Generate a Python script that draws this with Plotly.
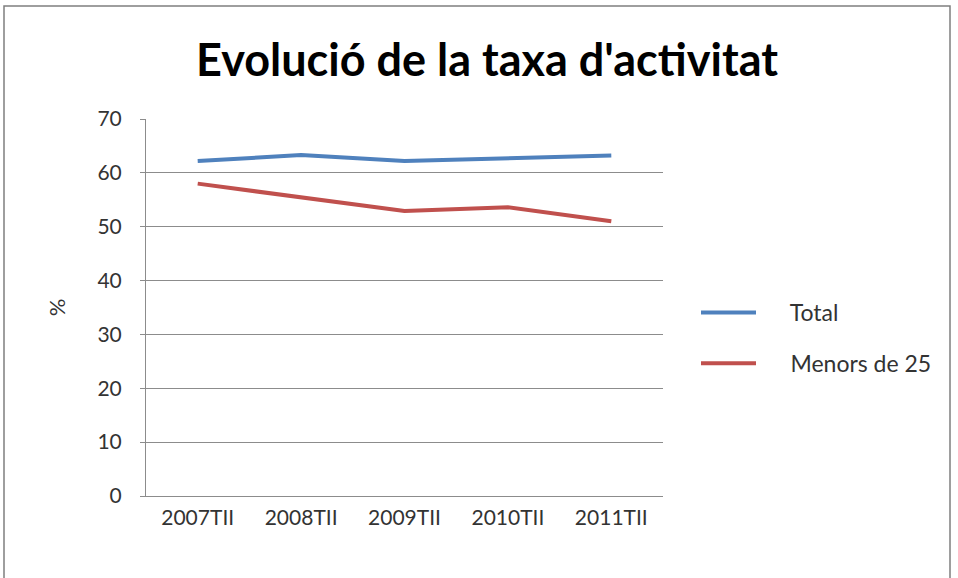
import plotly.graph_objects as go

categories = ['2007TII', '2008TII', '2009TII', '2010TII', '2011TII']
total = [62.2, 63.3, 62.2, 62.7, 63.2]
menors_25 = [58.0, 55.4, 52.9, 53.6, 51.0]
y_ticks = [0, 10, 20, 30, 40, 50, 60, 70]

W, H = 958, 578
L, R, T, B = 146, 295, 119, 82
pw, ph = W - L - R, H - T - B

font_family = 'Lato, "Open Sans", sans-serif'
axis_grey = '#8c8c8c'
pad = '\u00a0' * 5  # gap between legend line and label

fig = go.Figure()
fig.add_trace(go.Scatter(x=categories, y=total, mode='lines', name=pad + 'Total',
                         line=dict(color='#4F81BD', width=4), legendgroup='a'))
fig.add_trace(go.Scatter(x=categories, y=menors_25, mode='lines', name=pad + 'Menors de 25',
                         line=dict(color='#C0504D', width=4), legendgroup='b'))

fig.update_layout(
    width=W, height=H,
    margin=dict(l=L, r=R, t=T, b=B, autoexpand=False),
    paper_bgcolor='white', plot_bgcolor='white',
    font=dict(family=font_family, size=21, color='#333333'),
    title=dict(text="Evolució de la taxa d'activitat", x=487 / W, xanchor='center',
               y=1 - 60 / H, yanchor='middle',
               font=dict(family=font_family, size=45, color='black', weight='bold')),
    showlegend=True,
    legend=dict(x=(696 - L) / pw, xanchor='left', y=(H - B - 338) / ph, yanchor='middle',
                font=dict(size=23), tracegroupgap=18, itemwidth=55,
                bgcolor='rgba(0,0,0,0)'),
    xaxis=dict(type='category', showgrid=False, showline=True, linecolor=axis_grey,
               linewidth=1, ticks='', tickfont=dict(size=21), ticklabelstandoff=3,
               range=[-0.5, 4.5], automargin=False),
    yaxis=dict(range=[0, 70], tickvals=y_ticks, showgrid=True, gridcolor=axis_grey,
               gridwidth=1, showline=True, linecolor=axis_grey, linewidth=1,
               ticks='outside', ticklen=5, tickcolor=axis_grey, tickfont=dict(size=21),
               ticklabelstandoff=14, zeroline=False, automargin=False,
               title=dict(text='%', font=dict(size=22), standoff=25)),
    shapes=[dict(type='rect', xref='paper', yref='paper',
                 x0=-(L - 4) / pw, x1=1 + (R - 8) / pw,
                 y0=-(B + 10) / ph, y1=1 + (T - 6) / ph,
                 line=dict(color='#7f7f7f', width=1.5))],
)

fig.write_html("out.html", config={'displayModeBar': False},
               post_script="document.body.style.margin='0';")
